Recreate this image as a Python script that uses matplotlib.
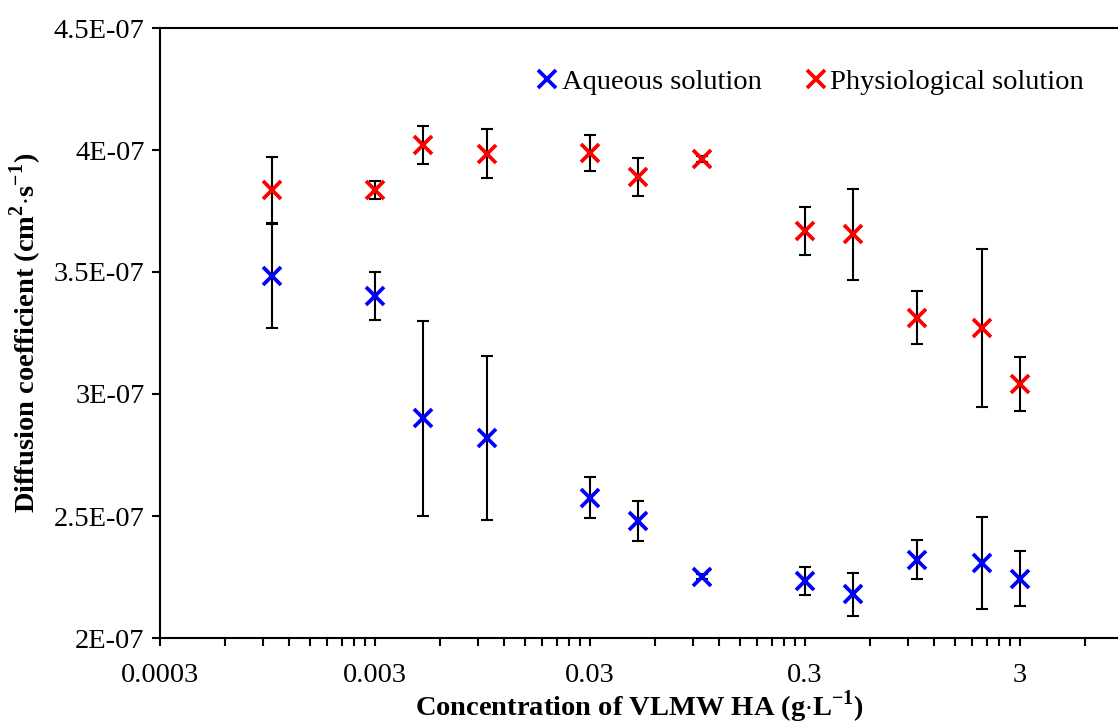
import numpy as np
import matplotlib.pyplot as plt
from matplotlib.ticker import FixedLocator, NullFormatter

plt.rcParams['font.family'] = ['Liberation Serif', 'DejaVu Serif']
plt.rcParams['mathtext.fontset'] = 'custom'
plt.rcParams['mathtext.rm'] = 'Liberation Serif'
plt.rcParams['mathtext.bf'] = 'Liberation Serif:bold'

# concentrations (g/L)
conc = [0.001, 0.003, 0.005, 0.01, 0.03, 0.05, 0.1, 0.3, 0.5, 1, 2, 3]

# diffusion coefficients (cm2/s) and error bars
aq_mean = [3.484e-7, 3.40e-7, 2.90e-7, 2.82e-7, 2.575e-7, 2.48e-7, 2.252e-7, 2.234e-7, 2.18e-7, 2.32e-7, 2.307e-7, 2.243e-7]
aq_err = [0.213e-7, 0.098e-7, 0.40e-7, 0.335e-7, 0.085e-7, 0.083e-7, 0.012e-7, 0.057e-7, 0.088e-7, 0.08e-7, 0.19e-7, 0.113e-7]
ph_mean = [3.836e-7, 3.836e-7, 4.02e-7, 3.985e-7, 3.987e-7, 3.89e-7, 3.962e-7, 3.668e-7, 3.655e-7, 3.313e-7, 3.27e-7, 3.04e-7]
ph_err = [0.135e-7, 0.035e-7, 0.077e-7, 0.10e-7, 0.073e-7, 0.079e-7, 0.012e-7, 0.10e-7, 0.186e-7, 0.108e-7, 0.323e-7, 0.11e-7]

ytick_vals = [2e-7, 2.5e-7, 3e-7, 3.5e-7, 4e-7, 4.5e-7]
ytick_labels = ['2E-07', '2.5E-07', '3E-07', '3.5E-07', '4E-07', '4.5E-07']
xtick_vals = [0.0003, 0.003, 0.03, 0.3, 3]
xtick_labels = ['0.0003', '0.003', '0.03', '0.3', '3']

fs = 20.5

fig = plt.figure(figsize=(11.18, 7.26), dpi=100)
ax = fig.add_axes([160 / 1118, 88 / 726, 958 / 1118, 610 / 726])

eb_kw = dict(fmt='none', ecolor='black', elinewidth=1.5, capsize=4.5, capthick=1.5, zorder=2)
ax.errorbar(conc, aq_mean, yerr=aq_err, **eb_kw)
ax.errorbar(conc, ph_mean, yerr=ph_err, **eb_kw)
ax.plot(conc, aq_mean, 'x', color='#0000FF', markersize=12.5, markeredgewidth=2.7,
        label='Aqueous solution', zorder=3)
ax.plot(conc, ph_mean, 'x', color='#FF0000', markersize=12.5, markeredgewidth=2.7,
        label='Physiological solution', zorder=3)

ax.set_xscale('log')
ax.set_xlim(0.0003, 0.0003 * 10 ** (958 / 215))
ax.set_ylim(2e-7, 4.5e-7)

ax.xaxis.set_major_locator(FixedLocator(xtick_vals))
ax.set_xticklabels(xtick_labels)
minor = [0.0003 * 10 ** d * k for d in range(5) for k in range(2, 10)]
ax.xaxis.set_minor_locator(FixedLocator(minor))
ax.xaxis.set_minor_formatter(NullFormatter())
ax.yaxis.set_major_locator(FixedLocator(ytick_vals))
ax.set_yticklabels(ytick_labels)

ax.tick_params(axis='both', which='both', direction='out', length=6, width=1.5,
               labelsize=fs, color='black')
ax.tick_params(axis='x', pad=12)
ax.tick_params(axis='y', pad=5)

for s in ['left', 'bottom', 'top']:
    ax.spines[s].set_linewidth(1.5)
ax.spines['right'].set_visible(False)

ax.set_xlabel(r'Concentration of VLMW HA (g$\cdot$L$^{\mathbf{-1}}$)', fontsize=fs,
              fontweight='bold', labelpad=0)
ax.set_ylabel(r'Diffusion coefficient (cm$^{\mathbf{2}}$$\cdot$s$^{\mathbf{-1}}$)', fontsize=fs,
              fontweight='bold', labelpad=7)

ax.legend(loc='upper right', bbox_to_anchor=(1095 / 1118, 668 / 726),
          bbox_transform=fig.transFigure, ncol=2, frameon=False, fontsize=fs,
          handlelength=0.8, handletextpad=0.1, columnspacing=1.5, borderaxespad=0)

fig.savefig('out.png', dpi=100)
